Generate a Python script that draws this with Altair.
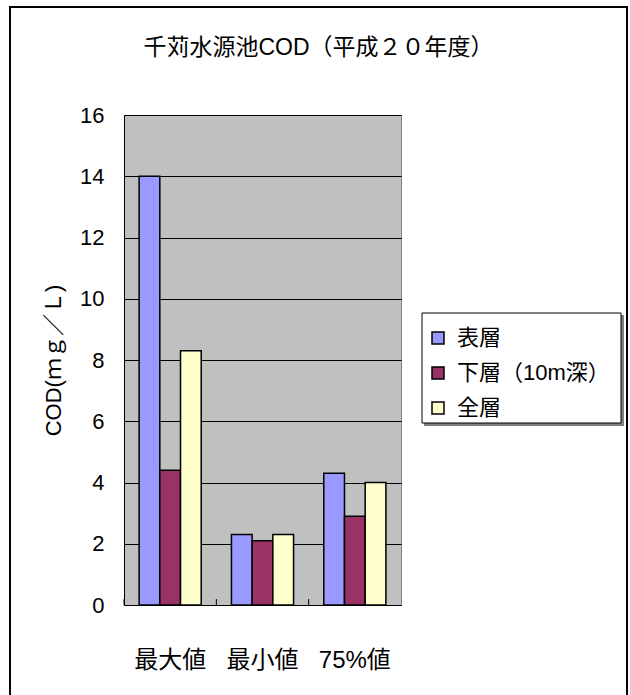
import altair as alt
import pandas as pd

# Summary statistics of COD at 千苅水源池, FY 平成20
categories = ["最大値", "最小値", "75%値"]
series = ["表層", "下層（10m深）", "全層"]
surface = [14.0, 2.3, 4.3]
lower = [4.4, 2.1, 2.9]
whole = [8.3, 2.3, 4.0]
colors = ["#9999FF", "#993366", "#FFFFCC"]
y_ticks = [0, 2, 4, 6, 8, 10, 12, 14, 16]

rows = []
for name, vals in zip(series, [surface, lower, whole]):
    for cat, v in zip(categories, vals):
        rows.append({"cat": cat, "layer": name, "cod": v})
df = pd.DataFrame(rows)
cat_df = pd.DataFrame({"cat": categories})
one = pd.DataFrame({"k": [0]})

W, H = 277, 490
LATIN_CJK = "Liberation Sans, Noto Sans CJK JP"

x_enc = alt.X(
    "cat:N",
    sort=categories,
    scale=alt.Scale(paddingInner=0, paddingOuter=0),
    axis=alt.Axis(
        title=None, labelAngle=0, labelFontSize=24, labelFont=LATIN_CJK,
        labelColor="black", labelPadding=43, ticks=False,
        domainColor="black", domainWidth=1, grid=False,
    ),
)

bars = alt.Chart(df).mark_bar(stroke="black", strokeWidth=1.5).encode(
    x=x_enc,
    xOffset=alt.XOffset(
        "layer:N", sort=series,
        scale=alt.Scale(paddingInner=0, paddingOuter=0.73),
    ),
    y=alt.Y(
        "cod:Q",
        scale=alt.Scale(domain=[0, 16], nice=False),
        axis=alt.Axis(
            values=y_ticks, title="COD(ｍｇ／Ｌ)", titleFont=LATIN_CJK,
            titleFontSize=22, titleFontWeight="normal", titleColor="black",
            titlePadding=14, labelFont="Liberation Sans", labelFontSize=22,
            labelColor="black", labelPadding=20, ticks=False,
            domainColor="black", domainWidth=1, grid=True,
            gridColor="black", gridWidth=1,
        ),
    ),
    color=alt.Color(
        "layer:N", sort=series,
        scale=alt.Scale(domain=series, range=colors),
        legend=alt.Legend(
            title=None, orient="none", legendX=303, legendY=212,
            labelFont=LATIN_CJK, labelFontSize=22, labelColor="black",
            labelOffset=8, symbolType="square", symbolSize=144,
            symbolStrokeColor="black", symbolStrokeWidth=1.5,
            symbolOpacity=1, padding=0, rowPadding=13,
        ),
    ),
)

# short tick marks at the category boundaries, pointing into the plot
boundaries = alt.Chart(cat_df).mark_rule(color="black", strokeWidth=1).encode(
    x=alt.X("cat:N", sort=categories, bandPosition=0),
    y=alt.value(H),
    y2=alt.value(H - 6),
)

# legend panel: drop shadow and bordered white box
legend_shadow = alt.Chart(one).mark_rect(fill="#808080").encode(
    x=alt.value(300), x2=alt.value(500),
    y=alt.value(200), y2=alt.value(311),
)
legend_box = alt.Chart(one).mark_rect(
    fill="white", stroke="black", strokeWidth=1
).encode(
    x=alt.value(298), x2=alt.value(497),
    y=alt.value(198), y2=alt.value(308),
)

# frame around the whole figure
frame = alt.Chart(one).mark_rect(
    fill=None, stroke="black", strokeWidth=2
).encode(
    x=alt.value(-114), x2=alt.value(503),
    y=alt.value(-108), y2=alt.value(610),
)

chart = alt.layer(bars, boundaries, legend_shadow, legend_box, frame).properties(
    width=W,
    height=H,
    title=alt.TitleParams(
        "千苅水源池COD（平成２０年度）", font=LATIN_CJK, fontSize=23,
        fontWeight="normal", color="black", anchor="middle", frame="group",
        dx=56, offset=-54,
    ),
    autosize=alt.AutoSizeParams(type="none"),
    padding={"left": 124, "top": 115, "right": 229, "bottom": 90},
    background="white",
).configure_view(
    fill="#C0C0C0", stroke="#808080", strokeWidth=1
)

chart.save("out.html", embed_options={"renderer": "svg", "actions": False})
